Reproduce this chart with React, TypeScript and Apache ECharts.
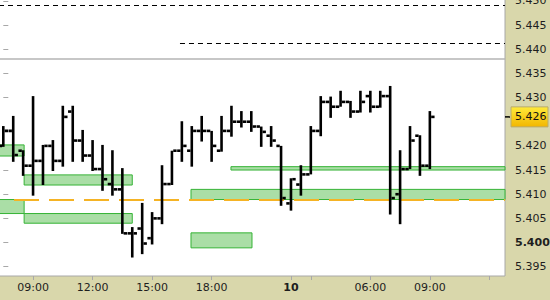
import React, { useEffect, useRef } from "react";
import * as echarts from "echarts";

// 30-minute OHLC bars (index 0 .. 43)
const barOpen = [5.4200, 5.4231, 5.4190, 5.4159, 5.4169, 5.4200, 5.4169, 5.4271, 5.4211, 5.4180, 5.4152, 5.4121, 5.4110, 5.4019, 5.4029, 5.4009, 5.4050, 5.4121, 5.4190, 5.4190, 5.4231, 5.4231, 5.4190, 5.4231, 5.4250, 5.4250, 5.4240, 5.4221, 5.4200, 5.4081, 5.4120, 5.4141, 5.4231, 5.4291, 5.4281, 5.4291, 5.4271, 5.4303, 5.4281, 5.4303, 5.4100, 5.4152, 5.4221, 5.4159];
const barHigh = [5.4241, 5.4262, 5.4191, 5.4303, 5.4202, 5.4212, 5.4283, 5.4283, 5.4233, 5.4212, 5.4202, 5.4191, 5.4154, 5.4032, 5.4082, 5.4063, 5.4160, 5.4190, 5.4251, 5.4241, 5.4262, 5.4231, 5.4262, 5.4283, 5.4272, 5.4272, 5.4240, 5.4241, 5.4200, 5.4133, 5.4160, 5.4241, 5.4303, 5.4302, 5.4314, 5.4293, 5.4314, 5.4314, 5.4314, 5.4324, 5.4191, 5.4241, 5.4222, 5.4272];
const barLow = [5.4198, 5.4167, 5.4138, 5.4097, 5.4119, 5.4148, 5.4157, 5.4167, 5.4167, 5.4148, 5.4107, 5.4097, 5.4018, 5.3969, 5.3976, 5.3996, 5.4038, 5.4119, 5.4167, 5.4157, 5.4209, 5.4167, 5.4188, 5.4219, 5.4238, 5.4229, 5.4198, 5.4198, 5.4076, 5.4066, 5.4097, 5.4141, 5.4220, 5.4258, 5.4281, 5.4258, 5.4269, 5.4269, 5.4279, 5.4058, 5.4038, 5.4152, 5.4138, 5.4152];
const barClose = [5.4231, 5.4181, 5.4159, 5.4169, 5.4200, 5.4169, 5.4260, 5.4211, 5.4180, 5.4152, 5.4131, 5.4110, 5.4019, 5.4019, 5.3998, 5.4050, 5.4121, 5.4190, 5.4200, 5.4231, 5.4231, 5.4200, 5.4231, 5.4250, 5.4250, 5.4240, 5.4229, 5.4211, 5.4092, 5.4131, 5.4141, 5.4231, 5.4291, 5.4281, 5.4291, 5.4271, 5.4291, 5.4281, 5.4303, 5.4092, 5.4152, 5.4211, 5.4159, 5.4260];

// time axis
const tickIndex = [3, 9, 15, 21, 29, 31, 37, 43, 49];
const labelIndex = [3, 9, 15, 21, 29, 37, 43];
const labelText = ["09:00", "12:00", "15:00", "18:00", "10", "06:00", "09:00"];
const boldLabelIndex = [29];

// price axis
const priceTicks = [5.395, 5.4, 5.405, 5.41, 5.415, 5.42, 5.43, 5.435, 5.44, 5.445, 5.45];
const boldPrice = 5.4;

// zones (bar-index start/end, price top/bottom); -99 / 99 = beyond the visible edge
const zoneStart = [-99, 2.1, -99, 2.1, 18.92, 18.92, 22.95];
const zoneEnd = [2.1, 13.0, 2.1, 13.0, 25.07, 99, 99];
const zoneTop = [5.4202, 5.414, 5.4089, 5.406, 5.402, 5.411, 5.4157];
const zoneBottom = [5.4179, 5.4119, 5.406, 5.404, 5.3989, 5.4089, 5.415];

// horizontal levels
const orangeLevel = 5.4088;
const orangeStart = 1.08;
const dashedLevels = [5.449, 5.4412];
const dashedStarts = [-99, 17.81];
const grayLevel = 5.4381;

const X_MIN = -0.4335;
const X_MAX = 50.575;
const Y_MIN = 5.393077;
const Y_MAX = 5.450391;

const FONT = "DejaVu Sans";

export default function App() {
  const ref = useRef<HTMLDivElement>(null);
  useEffect(() => {
    document.body.style.margin = "0";
    const chart = echarts.init(ref.current!, null, { renderer: "svg" });
    const clampX = (v: number) => Math.min(X_MAX, Math.max(X_MIN, v));
    const ohlc = barOpen.map((o, i) => [i, o, barHigh[i], barLow[i], barClose[i]]);

    const zones = zoneStart.map((s, i) => [
      { coord: [clampX(s), zoneTop[i]] },
      { coord: [clampX(zoneEnd[i]), zoneBottom[i]] },
    ]);

    const dashStyle = { type: [5, 4], color: "#000", width: 1 };
    const lines: any[] = [];
    dashedLevels.forEach((lv, i) => {
      lines.push([
        { coord: [clampX(dashedStarts[i]), lv], lineStyle: dashStyle },
        { coord: [X_MAX, lv] },
      ]);
    });
    lines.push([
      { coord: [X_MIN, grayLevel], lineStyle: { type: "solid", color: "#b4b4b4", width: 1.5 } },
      { coord: [X_MAX, grayLevel] },
    ]);
    lines.push([
      { coord: [orangeStart, orangeLevel], lineStyle: { type: [25, 10], color: "#f5b324", width: 2 } },
      { coord: [X_MAX, orangeLevel] },
    ]);

    const labelMap: Record<number, string> = {};
    labelIndex.forEach((k, i) => (labelMap[k] = labelText[i]));

    chart.setOption({
      animation: false,
      backgroundColor: "#d9d7ab",
      grid: {
        left: -1,
        top: -1,
        right: 45,
        bottom: 24,
        show: true,
        containLabel: false,
        outerBoundsMode: "none",
        backgroundColor: "#ffffff",
        borderColor: "#a8a8a8",
        borderWidth: 1,
      },
      xAxis: {
        type: "value",
        min: X_MIN,
        max: X_MAX,
        axisLine: { show: false },
        splitLine: { show: false },
        axisTick: { show: true, customValues: tickIndex, length: 4, lineStyle: { color: "#a8a8a8" } },
        axisLabel: {
          customValues: labelIndex,
          margin: 6,
          fontFamily: FONT,
          fontSize: 11,
          color: "#1e1e1e",
          formatter: (v: number) => {
            const k = Math.round(v);
            const t = labelMap[k] ?? "";
            return boldLabelIndex.includes(k) ? `{b|${t}}` : t;
          },
          rich: { b: { fontFamily: FONT, fontSize: 11, fontWeight: "bold", color: "#1e1e1e" } },
        },
      },
      yAxis: {
        type: "value",
        position: "right",
        min: Y_MIN,
        max: Y_MAX,
        axisLine: { show: false },
        splitLine: { show: false },
        axisTick: { show: true, customValues: priceTicks, length: 5, lineStyle: { color: "#a8a8a8" } },
        axisLabel: {
          customValues: priceTicks,
          margin: 10,
          fontFamily: FONT,
          fontSize: 11,
          color: "#1e1e1e",
          formatter: (v: number) =>
            Math.abs(v - boldPrice) < 1e-9 ? `{b|${v.toFixed(3)}}` : v.toFixed(3),
          rich: { b: { fontFamily: FONT, fontSize: 11, fontWeight: "bold", color: "#1e1e1e" } },
        },
      },
      series: [
        {
          type: "custom",
          z: 10,
          clip: true,
          data: ohlc,
          encode: { x: 0, y: [1, 2, 3, 4] },
          renderItem: (params: any, api: any) => {
            const i = api.value(0);
            const pO = api.coord([i, api.value(1)]);
            const pH = api.coord([i, api.value(2)]);
            const pL = api.coord([i, api.value(3)]);
            const pC = api.coord([i, api.value(4)]);
            const w = 2.6;
            const t = 3.4;
            const th = 2.6;
            const x = pH[0];
            return {
              type: "group",
              children: [
                { type: "rect", shape: { x: x - w / 2, y: pH[1], width: w, height: Math.max(1, pL[1] - pH[1]) }, style: { fill: "#000" } },
                { type: "rect", shape: { x: x - w / 2 - t, y: pO[1] - th / 2, width: t, height: th }, style: { fill: "#000" } },
                { type: "rect", shape: { x: x + w / 2, y: pC[1] - th / 2, width: t, height: th }, style: { fill: "#000" } },
              ],
            };
          },
          markArea: {
            silent: true,
            z: 1,
            itemStyle: { color: "#aadea6", borderColor: "#35b335", borderWidth: 1 },
            data: zones,
          },
          markLine: {
            silent: true,
            z: 2,
            symbol: ["none", "none"],
            label: { show: false },
            data: lines,
          },
        },
      ],
    });

    const last = barClose[barClose.length - 1];
    const py = chart.convertToPixel({ yAxisIndex: 0 }, last) as number;
    const gx = chart.getWidth() - 45;
    chart.setOption({
      graphic: [
        { type: "line", z: 100, shape: { x1: gx, y1: py, x2: gx + 5, y2: py }, style: { stroke: "#000", lineWidth: 1.5 } },
        {
          type: "rect",
          z: 100,
          shape: { x: gx + 6, y: py - 10, width: 37, height: 20 },
          style: {
            fill: new echarts.graphic.LinearGradient(0, 0, 0, 1, [
              { offset: 0, color: "#ffea3a" },
              { offset: 1, color: "#f2b600" },
            ]),
            stroke: "#b8ab6c",
            lineWidth: 1,
          },
        },
        {
          type: "text",
          z: 101,
          x: gx + 10,
          y: py,
          style: { text: last.toFixed(3), font: `11px "${FONT}"`, fill: "#111", verticalAlign: "middle", align: "left" },
        },
      ],
    });

    return () => chart.dispose();
  }, []);
  return <div ref={ref} style={{ width: 550, height: 300 }} />;
}
